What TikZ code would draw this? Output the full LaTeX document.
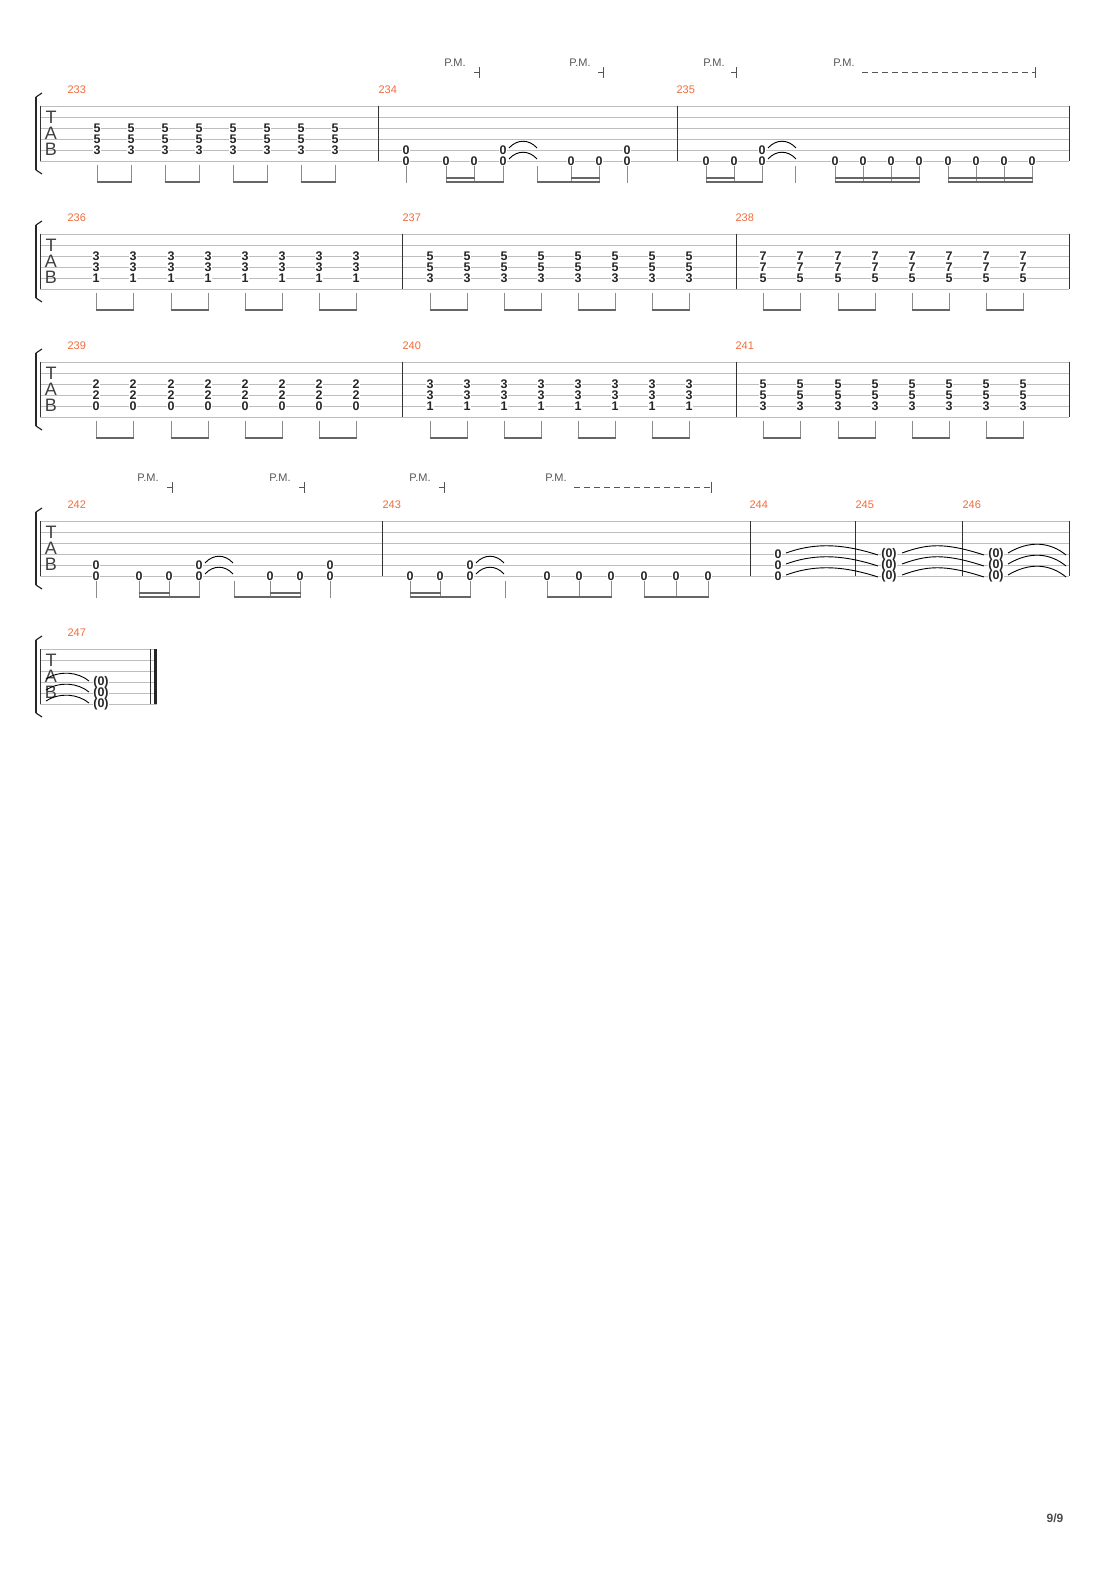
\documentclass[tikz,border=0pt]{standalone}
\usepackage{fontspec}
\setmainfont{Liberation Sans}
\definecolor{mnum}{HTML}{F26B3A}
\definecolor{mline}{HTML}{BDBDBD}
\definecolor{mgray}{HTML}{555555}
\tikzstyle{strline} = [mline, line width=0.8pt]
\tikzstyle{barline} = [black!80, line width=1pt]
\tikzstyle{fret} = [fill=white, inner sep=0.3pt, font=\fontsize{12.5}{12}\selectfont\bfseries, text=black!85]
\tikzstyle{barnum} = [anchor=west, text=mnum, font=\fontsize{11}{11}\selectfont]
\tikzstyle{pm} = [text=mgray, font=\fontsize{11}{11}\selectfont]
\tikzstyle{stem} = [black!45, line width=1pt]
\tikzstyle{beam} = [black!60, line width=2.5pt]
\tikzstyle{tie} = [black, line width=0.9pt]
\tikzstyle{tablet} = [font=\fontsize{18}{18}\selectfont, text=black!75, inner sep=0pt]
% staff: top y, left x, right x
\newcommand\tabstaff[3]{%
  \foreach \k in {0,...,5} {\draw[strline] (#2,#1+11*\k) -- (#3,#1+11*\k);}
  \draw[line width=2.5pt, black!85] (36,#1-9) -- (36,#1+64);
  \draw[line width=1.2pt, black!85] (36,#1-9) -- (42,#1-13);
  \draw[line width=1.2pt, black!85] (36,#1+64) -- (42,#1+68);
  \node[tablet] at (51,#1+11) {T};
  \node[tablet] at (51,#1+27) {A};
  \node[tablet] at (51,#1+43) {B};}
% chord on strings 3-5
\newcommand\chord[5]{%
  \node[fret] at (#2,#1+22) {#3};
  \node[fret] at (#2,#1+33) {#4};
  \node[fret] at (#2,#1+44) {#5};}
% eighth pairs
\newcommand\pairs[2]{%
  \foreach \a/\b in {#2} {
    \draw[stem] (\a,#1+59) -- (\a,#1+77);
    \draw[stem] (\b,#1+59) -- (\b,#1+77);
    \draw[beam] (\a-0.5,#1+76) -- (\b+0.5,#1+76);}}
% system of three chord bars: y, first number, frets
\newcommand\chordsys[5]{%
  \tabstaff{#1}{40}{1069}
  \foreach \x in {40,402,736,1069} {\draw[barline] (\x,#1) -- (\x,#1+55);}
  \foreach \x/\n in {64/0,399/1,732/2} {\pgfmathtruncatemacro\bn{#2+\n}\node[barnum] at (\x,#1-16) {\bn};}
  \foreach \x in {96,133,171,208,245,282,319,356} {\chord{#1}{\x}#3}
  \foreach \x in {430,467,504,541,578,615,652,689} {\chord{#1}{\x}#4}
  \foreach \x in {763,800,838,875,912,949,986,1023} {\chord{#1}{\x}#5}
  \pairs{#1}{96/133,171/208,245/282,319/356,430/467,504/541,578/615,652/689,763/800,838/875,912/949,986/1023}}
\newcommand\pmend[3]{% label x, end x, y
  \node[pm] at (#1,#3) {P.M.};
  \draw[mgray, line width=0.8pt] (#2-5,#3+9) -- (#2,#3+9);
  \draw[mgray, line width=0.8pt] (#2,#3+4) -- (#2,#3+15);}
\newcommand\pmdash[3]{%
  \node[pm] at (#1,#3) {P.M.};
  \draw[mgray, line width=0.8pt, dash pattern=on 6pt off 4pt] (#1+18,#3+9) -- (#2,#3+9);
  \draw[mgray, line width=0.8pt] (#2,#3+4) -- (#2,#3+15);}
\newcommand\shorttie[2]{% x, y of string
  \draw[tie] (#1+6,#2-2) .. controls (#1+14,#2-11) and (#1+26,#2-11) .. (#1+34,#2-2);}
\newcommand\longtie[3]{% x1, x2, y
  \draw[tie] (#1,#3-1) .. controls (#1+25,#3-10) and (#2-40,#3-12) .. (#2,#3+1);}
\begin{document}
\begin{tikzpicture}[x=1pt, y=-1pt]
  \useasboundingbox (0,0) rectangle (1110,1570);
  %% system 1
  \tabstaff{106}{40}{1069}
  \foreach \x in {40,378,677,1069} {\draw[barline] (\x,106) -- (\x,161);}
  \node[barnum] at (64,90) {233};
  \node[barnum] at (375,90) {234};
  \node[barnum] at (673,90) {235};
  \foreach \x in {97,131,165,199,233,267,301,335} {\chord{106}{\x}{5}{5}{3}}
  \pairs{106}{97/131,165/199,233/267,301/335}
  \pmend{455}{479}{63}
  \pmend{580}{603}{63}
  \pmend{714}{736}{63}
  \pmdash{844}{1035}{63}
  % bar 234
  \foreach \x in {406,503,627} {\node[fret] at (\x,150) {0}; \node[fret] at (\x,161) {0};}
  \foreach \x in {446,474,571,599} {\node[fret] at (\x,161) {0};}
  \shorttie{503}{150} \shorttie{503}{161}
  \foreach \x in {406,446,474,503,537,571,599,627} {\draw[stem] (\x,166) -- (\x,183);}
  \draw[beam] (445.5,182) -- (503.5,182);
  \draw[beam] (445.5,178) -- (474.5,178);
  \draw[beam] (536.5,182) -- (599.5,182);
  \draw[beam] (570.5,178) -- (599.5,178);
  % bar 235
  \node[fret] at (762,150) {0};
  \foreach \x in {706,734,762,835,863,891,919,948,976,1004,1032} {\node[fret] at (\x,161) {0};}
  \shorttie{762}{150} \shorttie{762}{161}
  \foreach \x in {706,734,762,795,835,863,891,919,948,976,1004,1032} {\draw[stem] (\x,166) -- (\x,183);}
  \draw[beam] (705.5,182) -- (762.5,182);
  \draw[beam] (705.5,178) -- (734.5,178);
  \draw[beam] (834.5,182) -- (919.5,182);
  \draw[beam] (834.5,178) -- (919.5,178);
  \draw[beam] (947.5,182) -- (1032.5,182);
  \draw[beam] (947.5,178) -- (1032.5,178);
  %% systems 2 and 3
  \chordsys{234}{236}{{3}{3}{1}}{{5}{5}{3}}{{7}{7}{5}}
  \chordsys{362}{239}{{2}{2}{0}}{{3}{3}{1}}{{5}{5}{3}}
  %% system 4
  \tabstaff{521}{40}{1069}
  \foreach \x in {40,382,750,855,962,1069} {\draw[barline] (\x,521) -- (\x,576);}
  \node[barnum] at (64,505) {242};
  \node[barnum] at (379,505) {243};
  \node[barnum] at (746,505) {244};
  \node[barnum] at (852,505) {245};
  \node[barnum] at (959,505) {246};
  \pmend{148}{172}{478}
  \pmend{280}{304}{478}
  \pmend{420}{444}{478}
  \pmdash{556}{711}{478}
  % bar 242
  \foreach \x in {96,199,330} {\node[fret] at (\x,565) {0}; \node[fret] at (\x,576) {0};}
  \foreach \x in {139,169,270,300} {\node[fret] at (\x,576) {0};}
  \shorttie{199}{565} \shorttie{199}{576}
  \foreach \x in {96,139,169,199,234,270,300,330} {\draw[stem] (\x,581) -- (\x,598);}
  \draw[beam] (138.5,597) -- (199.5,597);
  \draw[beam] (138.5,593) -- (169.5,593);
  \draw[beam] (233.5,597) -- (300.5,597);
  \draw[beam] (269.5,593) -- (300.5,593);
  % bar 243
  \node[fret] at (470,565) {0};
  \foreach \x in {410,440,470,547,579,611,644,676,708} {\node[fret] at (\x,576) {0};}
  \shorttie{470}{565} \shorttie{470}{576}
  \foreach \x in {410,440,470,505,547,579,611,644,676,708} {\draw[stem] (\x,581) -- (\x,598);}
  \draw[beam] (409.5,597) -- (470.5,597);
  \draw[beam] (409.5,593) -- (440.5,593);
  \draw[beam] (546.5,597) -- (611.5,597);
  \draw[beam] (643.5,597) -- (708.5,597);
  % bars 244-246
  \foreach \s in {554,565,576} {
    \node[fret] at (778,\s) {0};
    \node[fret] at (889,\s) {(0)};
    \node[fret] at (996,\s) {(0)};
    \longtie{786}{878}{\s}
    \longtie{902}{984}{\s}
    \draw[tie] (1008,\s-1) .. controls (1030,\s-14) and (1050,\s-12) .. (1066,\s+1);
  }
  %% system 5
  \tabstaff{649}{40}{157}
  \draw[barline] (40,649) -- (40,704);
  \draw[barline] (150,649) -- (150,704);
  \draw[line width=3pt, black!85] (155,649) -- (155,704);
  \node[barnum] at (64,633) {247};
  \foreach \s in {682,693,704} {
    \node[fret] at (101,\s) {(0)};
    \draw[tie] (46,\s-3) .. controls (60,\s-12) and (78,\s-10) .. (89,\s-1);
  }
  \node[font=\fontsize{12}{12}\selectfont\bfseries, text=black!70] at (1055,1518) {9/9};
\end{tikzpicture}
\end{document}
